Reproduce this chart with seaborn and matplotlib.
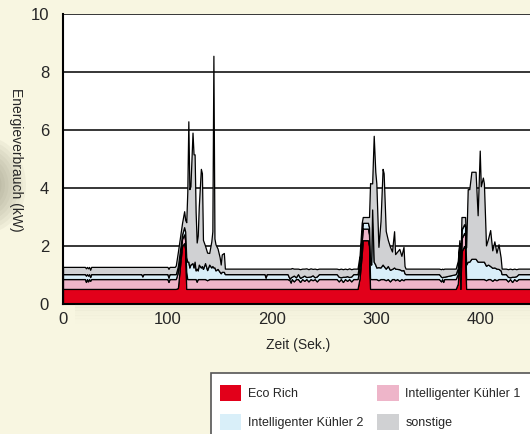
import numpy as np
import matplotlib
matplotlib.use("Agg")
import matplotlib.pyplot as plt
from matplotlib.patches import Rectangle, Patch, Ellipse
import seaborn as sns

sns.set_style("white")
plt.rcParams['font.family'] = ['Liberation Sans', 'DejaVu Sans']

# time (s) and the four stacked layers (kW)
zeit = [0, 20, 21, 22, 23, 24, 25, 26, 27, 75, 76, 77, 100, 101, 102, 107,
        108, 110, 112, 114, 116, 117, 118, 119, 120, 121, 122, 124, 125, 126, 127,
        128, 129, 130, 132, 133, 134, 136, 138, 140, 142, 143, 144, 145, 146, 148,
        150, 151, 152, 154, 155,
        193, 194, 195, 215, 217, 218, 219, 221, 223, 225, 227, 229, 231, 233, 235,
        237, 239, 241, 243, 245, 262, 264, 266, 268, 270, 272, 274, 276, 278, 282,
        284, 286, 287, 292, 293, 294, 295, 296, 297.5, 299, 300, 302, 304, 306, 307,
        309, 311, 313, 315, 317, 318, 320, 322, 324, 326, 327, 328,
        360, 362, 363, 364, 365, 376,
        378, 379.5, 380.5, 381.5, 384, 385, 386, 387.5, 389, 391, 395, 397, 399,
        400, 402, 403, 405, 407, 409, 411, 413, 415, 417, 419, 420,
        424, 426, 428, 430, 432, 434, 436, 450]

eco_rich = [.52, .52, .52, .52, .52, .52, .52, .52, .52, .52, .52, .52, .52, .52, .52, .52,
            .52, .55, 1.3, 2.0, 2.1, 1.9, .52, .52, .52, .52, .52, .52, .52, .52, .52,
            .52, .52, .52, .52, .52, .52, .52, .52, .52, .52, .52, .52, .52, .52, .52,
            .52, .52, .52, .52, .52,
            .52, .52, .52, .52, .52, .52, .52, .52, .52, .52, .52, .52, .52, .52, .52,
            .52, .52, .52, .52, .52, .52, .52, .52, .52, .52, .52, .52, .52, .52, .52,
            .9, 1.7, 2.2, 2.2, 2.0, .52, .52, .52, .52, .52, .52, .52, .52, .52, .52,
            .52, .52, .52, .52, .52, .52, .52, .52, .52, .52, .52, .52,
            .52, .52, .52, .52, .52, .52,
            .7, 1.6, .52, 1.8, 2.0, 1.9, .52, .52, .52, .52, .52, .52, .52,
            .52, .52, .52, .52, .52, .52, .52, .52, .52, .52, .52, .52,
            .52, .52, .52, .52, .52, .52, .52, .52]

kuehler1 = [.34, .34, .34, .24, .34, .26, .34, .28, .34, .34, .34, .34, .34, .24, .34, .34,
            .34, .55, .35, .25, .30, .30, .60, .34, .34, .34, .34, .34, .34, .34, .34,
            .25, .34, .34, .34, .34, .34, .34, .30, .34, .34, .34, .34, .34, .34, .34,
            .34, .34, .34, .34, .34,
            .34, .34, .34, .34, .30, .22, .34, .26, .34, .34, .24, .34, .28, .34, .26,
            .34, .30, .34, .26, .34, .34, .26, .34, .24, .34, .28, .34, .26, .34, .34,
            .34, .45, .40, .40, .40, .35, .34, .34, .34, .34, .34, .30, .34, .34, .34,
            .30, .34, .26, .34, .34, .30, .34, .28, .34, .30, .34, .34,
            .34, .26, .34, .24, .34, .34,
            .34, .30, .34, .45, .45, .45, .34, .34, .34, .34, .34, .34, .34,
            .34, .34, .34, .30, .34, .34, .28, .34, .30, .34, .34, .34,
            .34, .26, .34, .24, .34, .28, .34, .34]

kuehler2 = [.17, .17, .17, .22, .17, .20, .17, .13, .17, .17, .09, .17, .17, .15, .17, .17,
            .17, .20, .20, .15, .25, .30, .50, .60, .60, .40, .50, .55, .40, .60, .30,
            .45, .30, .50, .40, .45, .35, .55, .35, .50, .40, .45, .40, .40, .30, .35,
            .25, .20, .25, .25, .17,
            .17, .05, .17, .17, .05, .18, .08, .20, .06, .17, .14, .08, .18, .07, .16,
            .09, .17, .06, .17, .17, .17, .16, .06, .18, .08, .16, .07, .17, .17, .17,
            .20, .25, .20, .20, .25, .60, .50, 2.4, .60, .50, .40, .45, .40, .50, .45,
            .40, .45, .40, .35, .40, .40, .35, .40, .30, .35, .20, .17,
            .17, .16, .06, .18, .08, .17,
            .20, .20, .17, .30, .30, .30, .50, .60, .60, .70, .70, .60, .60,
            .60, .60, .60, .50, .50, .45, .45, .40, .40, .35, .30, .17,
            .17, .16, .06, .18, .08, .16, .17, .17]

sonstige = [.25, .25, .25, .25, .25, .25, .25, .25, .25, .25, .33, .25, .25, .30, .25, .25,
            .30, .50, .45, .40, .55, .40, 1.2, 2.4, 4.84, 2.7, 2.7, 4.5, 3.9, 3.7, 2.0,
            .90, 1.2, 2.0, 3.4, 3.2, 1.0, .60, .60, .40, .90, 1.2, 7.3, 1.0, .90, .70,
            .50, .30, .60, .65, .19,
            .19, .31, .19, .19, .35, .30, .30, .24, .30, .19, .30, .28, .24, .30, .26,
            .28, .22, .30, .25, .19, .19, .26, .30, .26, .28, .24, .30, .25, .19, .19,
            .25, .40, .20, .20, .35, 2.7, 2.8, .90, 4.34, 3.2, 2.9, .70, 1.6, 3.3, 3.2,
            1.3, .90, .80, .60, 1.25, .50, .60, .70, .50, .80, .25, .19,
            .19, .26, .30, .26, .28, .19,
            .25, .10, .25, .45, .25, .35, .60, 2.5, 2.5, 3.0, 3.0, 1.6, 3.83,
            2.6, 2.9, 2.7, .70, .90, 1.24, .60, .90, .55, .85, .45, .19,
            .19, .26, .30, .26, .28, .24, .19, .19]

labels = ["Eco Rich", "Intelligenter Kühler 1", "Intelligenter Kühler 2", "sonstige"]
colors = ["#e2001a", "#eeb5c9", "#d9eff9", "#d0d1d3"]
bg = "#f8f6e1"

fig = plt.figure(figsize=(5.3, 4.34), dpi=100, facecolor=bg)

# soft shadow under the plot area and a blurred blob at the left edge
for i in range(12):
    fig.patches.append(Rectangle((75 / 530, (434 - 304 - 2 - i * 1.6) / 434),
                                 455 / 530, 2 / 434, transform=fig.transFigure,
                                 facecolor="#8a8670", alpha=0.05 * (12 - i) / 12,
                                 edgecolor="none", zorder=0))
for i in range(10):
    r = 40 - i * 3.5
    fig.patches.append(Ellipse((-14 / 530, 1 - 185 / 434), 2 * r / 530, 2.4 * r / 434,
                               transform=fig.transFigure, facecolor="#6e6a58",
                               alpha=0.06, edgecolor="none", zorder=0))

ax = fig.add_axes([63 / 530, (434 - 304) / 434, 470 / 530, 290 / 434])
ax.set_facecolor("white")
ax.stackplot(zeit, eco_rich, kuehler1, kuehler2, sonstige, colors=colors,
             edgecolor="black", linewidth=0.9, zorder=2)

ax.set_xlim(0, 450)
ax.set_ylim(0, 10)
ax.set_yticks([0, 2, 4, 6, 8, 10])
ax.set_xticks([0, 100, 200, 300, 400])
ax.set_xticks([50, 150, 250, 350, 450], minor=True)
ax.yaxis.grid(True, color="black", linewidth=1.1)
ax.set_axisbelow(True)
ax.tick_params(axis="y", length=0, pad=10, labelsize=12)
ax.tick_params(axis="x", which="both", direction="in", length=6, width=1.2,
               color="#999999", labelsize=12, pad=6)
for s in ["top", "right"]:
    ax.spines[s].set_visible(False)
for s in ["left", "bottom"]:
    ax.spines[s].set_color("black")
    ax.spines[s].set_linewidth(1.5)
    ax.spines[s].set_zorder(5)

ax.set_xlabel("Zeit (Sek.)", fontsize=10)
ax.xaxis.set_label_coords(0.5, -(338 - 304) / 290)
fig.text(16 / 530, 1 - 160 / 434, "Energieverbrauch (kW)", rotation=270,
         ha="center", va="center", fontsize=10)

# legend box
fig.patches.append(Rectangle((211 / 530, -0.05), 0.7, (434 - 373) / 434 + 0.05,
                             transform=fig.transFigure, facecolor="white",
                             edgecolor="#555555", linewidth=1.2, zorder=1))
handles = [Patch(facecolor=c, edgecolor="none") for c in colors]
order = [0, 2, 1, 3]
fig.legend([handles[i] for i in order], [labels[i] for i in order], ncol=2,
           loc="upper left", bbox_to_anchor=(220 / 530, 1 - 385 / 434),
           frameon=False, fontsize=9, handlelength=1.7, handleheight=1.55,
           handletextpad=0.55, columnspacing=1.1, labelspacing=1.1,
           borderaxespad=0, borderpad=0)

fig.savefig("out.png", dpi=100, facecolor=bg)
